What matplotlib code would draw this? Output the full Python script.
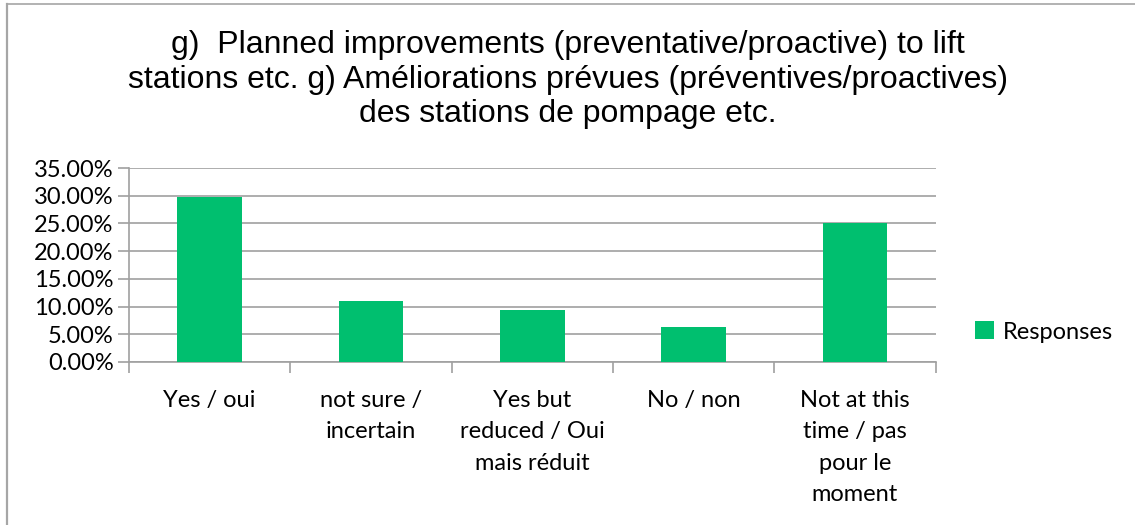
import numpy as np
import matplotlib.pyplot as plt
from matplotlib.lines import Line2D
from matplotlib.ticker import FuncFormatter

categories = ['Yes / oui', 'not sure /\nincertain', 'Yes but\nreduced / Oui\nmais réduit',
              'No / non', 'Not at this\ntime / pas\npour le\nmoment']
responses = [0.2969, 0.1094, 0.0938, 0.0625, 0.25]
yticks = [0, 0.05, 0.10, 0.15, 0.20, 0.25, 0.30, 0.35]

title = ('g)  Planned improvements (preventative/proactive) to lift\n'
         'stations etc. g) Améliorations prévues (préventives/proactives)\n'
         'des stations de pompage etc.')

green = '#00BF6F'
grid = '#A0A0A0'
lab_font = 'Lato'
lab_size = 17

fig = plt.figure(figsize=(11.35, 5.25), dpi=100)
W, H = 1135, 525
ax = fig.add_axes([129 / W, 1 - 362 / H, (935.5 - 129) / W, (362 - 168) / H])

x = np.arange(len(categories))
ax.bar(x, responses, width=0.4, color=green, zorder=3, label='Responses')

ax.set_xlim(-0.5, len(categories) - 0.5)
ax.set_ylim(0, 0.35)
ax.set_yticks(yticks)
ax.yaxis.set_major_formatter(FuncFormatter(lambda v, p: f'{v * 100:.2f}%'))
ax.yaxis.grid(True, color=grid, linewidth=1.2, zorder=0)

ax.set_xticks(x)
ax.set_xticklabels(categories, fontsize=lab_size, family=lab_font, linespacing=1.62, va='top')
ax.set_xticks(np.arange(-0.5, len(categories) + 0.5, 1), minor=True)
ax.tick_params(axis='x', which='major', length=0, pad=20)
ax.tick_params(axis='x', which='minor', length=8, color=grid, width=1.2)
ax.tick_params(axis='y', length=8, color=grid, width=1.2, labelsize=lab_size, pad=3)
for t in ax.get_yticklabels():
    t.set_family(lab_font)

for s in ['top', 'right']:
    ax.spines[s].set_visible(False)
for s in ['left', 'bottom']:
    ax.spines[s].set_color(grid)
    ax.spines[s].set_linewidth(1.2)

fig.text(0.5, 1 - 30 / H, title, ha='center', va='top', fontsize=23,
         family='Liberation Sans', linespacing=1.2)

leg = fig.legend(loc='center left', bbox_to_anchor=(966 / W, 1 - 332 / H), frameon=False,
                 prop={'family': lab_font, 'size': lab_size}, handlelength=0.8, handleheight=0.8,
                 handletextpad=0.35, borderaxespad=0)

# chart border (top and left edges visible)
fig.add_artist(Line2D([6.5 / W, 1], [1 - 4 / H, 1 - 4 / H], color='#A6A6A6', linewidth=1.2,
                      transform=fig.transFigure))
fig.add_artist(Line2D([6.5 / W, 6.5 / W], [0, 1 - 4 / H], color='#A6A6A6', linewidth=1.6,
                      transform=fig.transFigure))

fig.savefig('out.png', dpi=100)
